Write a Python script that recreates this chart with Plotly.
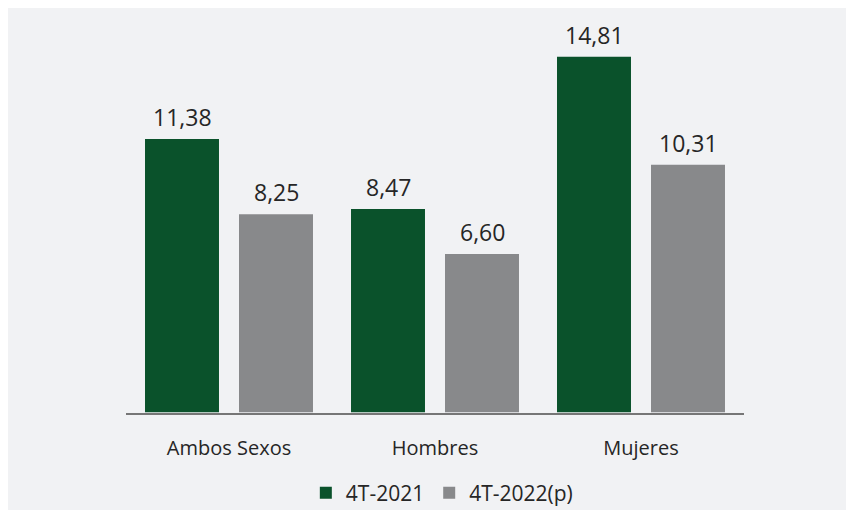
import plotly.graph_objects as go

categories = ["Ambos Sexos", "Hombres", "Mujeres"]
serie_2021 = [11.38, 8.47, 14.81]
serie_2022 = [8.25, 6.60, 10.31]
series_names = ["4T-2021", "4T-2022(p)"]

GREEN = "#0a522b"
GRAY = "#88898b"
PANEL = "#f1f2f4"
FONT = "Open Sans"
TXT = "#262626"

def fmt(v):
    return f"{v:.2f}".replace(".", ",")

fig = go.Figure()
series = [(series_names[0], serie_2021, GREEN, -47), (series_names[1], serie_2022, GRAY, 47)]
annotations = []
for name, vals, col, shift in series:
    fig.add_trace(go.Bar(
        name=name, x=categories, y=vals, marker=dict(color=col, line=dict(width=0)),
    ))
    for c, v in zip(categories, vals):
        annotations.append(dict(x=c, y=v, xref="x", yref="y", text=fmt(v), showarrow=False,
                                xshift=shift, yshift=4, yanchor="bottom",
                                font=dict(family=FONT, size=23, color=TXT)))

# page is offset by the 8px body margin; plot area in page px: x 126..744, y 25..419
L, T = 118, 17
W, H = 618, 398
R, B = 854 - L - W, 510 - T - H

fig.update_layout(
    width=854, height=510,
    margin=dict(l=L, r=R, t=T, b=B, pad=0),
    paper_bgcolor=PANEL, plot_bgcolor=PANEL,
    barmode="group", bargap=0.0874, bargroupgap=0.213,
    font=dict(family=FONT, color=TXT),
    showlegend=True,
    legend=dict(orientation="h", xref="container", yref="container", x=0.508, xanchor="center",
                y=0.049, yanchor="middle", font=dict(family=FONT, size=21, color=TXT),
                bgcolor="rgba(0,0,0,0)", itemclick=False),
    xaxis=dict(showgrid=False, showline=True, linecolor="#767676", linewidth=2, ticks="",
               tickfont=dict(family=FONT, size=20, color=TXT), ticklabelstandoff=16,
               fixedrange=True),
    yaxis=dict(range=[0, 16.13], visible=False, showgrid=False, zeroline=False, fixedrange=True),
    annotations=annotations,
)

fig.write_html("out.html")
